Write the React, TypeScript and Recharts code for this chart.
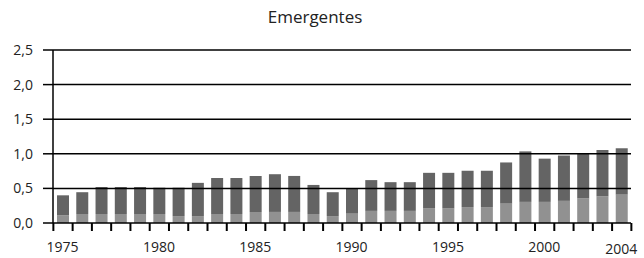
import { BarChart, Bar, XAxis, YAxis, ReferenceLine } from "recharts";

const years = [
  1975, 1976, 1977, 1978, 1979, 1980, 1981, 1982, 1983, 1984,
  1985, 1986, 1987, 1988, 1989, 1990, 1991, 1992, 1993, 1994,
  1995, 1996, 1997, 1998, 1999, 2000, 2001, 2002, 2003, 2004,
];
// light lower part of each bar
const lower = [
  0.11, 0.13, 0.13, 0.13, 0.13, 0.13, 0.1, 0.1, 0.13, 0.13,
  0.16, 0.16, 0.16, 0.13, 0.1, 0.135, 0.175, 0.175, 0.175, 0.21,
  0.21, 0.23, 0.23, 0.28, 0.305, 0.305, 0.32, 0.355, 0.385, 0.41,
];
// dark upper part of each bar
const upper = [
  0.29, 0.315, 0.39, 0.39, 0.39, 0.38, 0.41, 0.48, 0.52, 0.52,
  0.52, 0.545, 0.52, 0.42, 0.345, 0.365, 0.445, 0.415, 0.415, 0.515,
  0.515, 0.525, 0.525, 0.595, 0.73, 0.625, 0.655, 0.655, 0.67, 0.67,
];
const yTicks = [0, 0.5, 1, 1.5, 2, 2.5];
const labelledYears = [1975, 1980, 1985, 1990, 1995, 2000, 2004];

const W = 644;
const H = 258;
const M = { top: 50, right: 13, bottom: 0, left: 0 };
const Y_AXIS_W = 53;
const X_AXIS_H = 35;
const PLOT_W = W - M.left - M.right - Y_AXIS_W;
const TICK_SIZE = 8;
const FONT = "'Open Sans', 'Noto Sans', sans-serif";

const data = years.map((y, i) => ({ year: y, lower: lower[i], upper: upper[i] }));

// lower segment also draws the x tick marks on the slot edges below the axis
function LowerBar(props: any) {
  const { x, y, width, height, fill, index } = props;
  const slot = PLOT_W / years.length;
  const gap = (slot - width) / 2;
  const base = y + height;
  const last = index === years.length - 1;
  return (
    <g>
      <rect x={x} y={y} width={width} height={height} fill={fill} />
      <path d={`M${x - gap},${base}v${TICK_SIZE}`} stroke="#000" strokeWidth={2} fill="none" />
      {last && <path d={`M${x + width + gap},${base}v${TICK_SIZE}`} stroke="#000" strokeWidth={2} fill="none" />}
    </g>
  );
}

function YearTick(props: any) {
  const { x, y, payload, index } = props;
  if (!labelledYears.includes(payload.value)) return <g />;
  const last = index === years.length - 1;
  return (
    <text x={x} y={y + (last ? 2 : 0)} dy="0.71em" textAnchor="middle"
      fontSize={14} fill="#222" fontFamily={FONT}>
      {payload.value}
    </text>
  );
}

export default function App() {
  return (
    <div style={{ position: "absolute", left: 0, top: 0, width: W, height: H, background: "#fff" }}>
      <div
        style={{
          position: "absolute", left: 0, top: 5, width: 630, textAlign: "center",
          fontFamily: FONT, fontSize: 17, color: "#222",
        }}
      >
        Emergentes
      </div>
      <BarChart width={W} height={H} data={data} margin={M} barSize={12}>
        <XAxis
          dataKey="year"
          interval={0}
          height={X_AXIS_H}
          tick={<YearTick />}
          tickLine={false}
          tickSize={TICK_SIZE}
          tickMargin={11}
          axisLine={{ stroke: "#000", strokeWidth: 1.5 }}
        />
        <YAxis
          domain={[0, 2.5]}
          ticks={yTicks}
          width={Y_AXIS_W}
          tickSize={10}
          tickMargin={10}
          tickFormatter={(v: number) => v.toFixed(1).replace(".", ",")}
          tick={{ fontSize: 14, fill: "#222", fontFamily: FONT }}
          tickLine={{ stroke: "#000", strokeWidth: 1.5 }}
          axisLine={{ stroke: "#000", strokeWidth: 1.5 }}
        />
        <YAxis yAxisId="r" orientation="right" width={0} tick={false} tickLine={false}
          axisLine={{ stroke: "#000", strokeWidth: 1.5 }} />
        <Bar dataKey="lower" stackId="a" fill="#919191" shape={<LowerBar />} isAnimationActive={false} />
        <Bar dataKey="upper" stackId="a" fill="#646464" isAnimationActive={false} />
        {yTicks.slice(1).map((t) => (
          <ReferenceLine key={t} y={t} stroke="#000" strokeWidth={1.5} />
        ))}
      </BarChart>
    </div>
  );
}
